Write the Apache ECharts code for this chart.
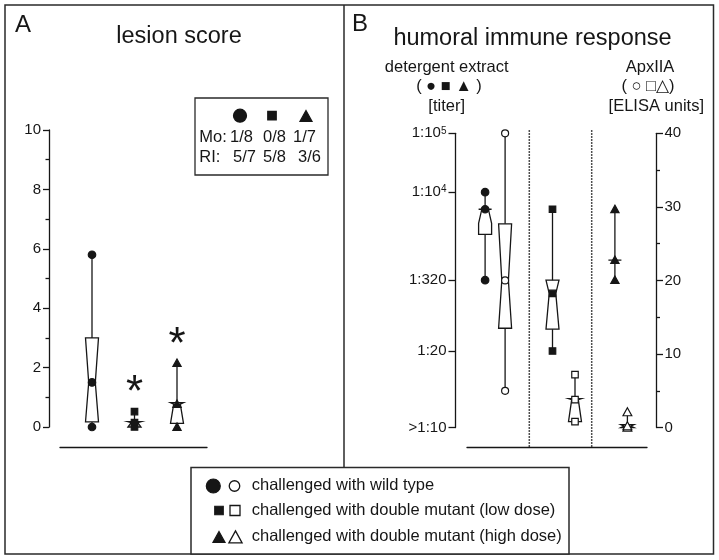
<!DOCTYPE html>
<html><head><meta charset="utf-8">
<script src="https://cdn.jsdelivr.net/npm/echarts@6/dist/echarts.min.js"></script>
<style>html,body{margin:0;padding:0;background:#fff}#c{width:719px;height:560px}</style>
</head><body><div id="c"></div><script>
const FONT = '"Liberation Sans", Arial, Helvetica, sans-serif';
const INK = '#161616';

// ---------- Panel A: lesion score ----------
const groups = ['wild type', 'double mutant (low dose)', 'double mutant (high dose)'];
const groupShapes = ['circle', 'square', 'triangle'];
const lesionMin     = [0,    0,    0];
const lesionQ1      = [0.17, 0,    0.12];
const lesionNotchLo = [0.17, 0,    0.12];
const lesionMedian  = [1.5,  0.15, 0.77];
const lesionNotchHi = [3.0,  0.18, 0.82];
const lesionQ3      = [3.0,  0.18, 0.82];
const lesionMax     = [5.8,  0.52, 2.15];
const lesionSignificant = [false, true, true];
const lesionAxisMin = 0, lesionAxisMax = 10, lesionAxisStep = 2;
const mortality   = ['1/8', '0/8', '1/7'];
const respLesions = ['5/7', '5/8', '3/6'];

// ---------- Panel B: humoral immune response ----------
// detergent extract titers (reciprocal dilution), log axis
const titerMin     = [320,   20,   320];
const titerQ1      = [1920,  47,   700];
const titerNotchLo = [2950,  47,   700];
const titerMedian  = [5120,  190,  700];
const titerNotchHi = [5120,  320,  700];
const titerQ3      = [5120,  320,  700];
const titerMax     = [10000, 5120, 5120];
const titerTickValues = [1, 20, 320, 1e4, 1e5];
const titerTickLabels = ['>1:10', '1:20', '1:320', '1:10^4', '1:10^5'];
const titerAxisMaxLog = 5;
// ApxIIA ELISA units
const elisaMin     = [5,    0.8,  0];
const elisaQ1      = [13.5, 0.8,  0];
const elisaNotchLo = [13.5, 0.8,  0];
const elisaMedian  = [20,   3.8,  0.2];
const elisaNotchHi = [27.7, 3.95, 0.4];
const elisaQ3      = [27.7, 3.95, 0.4];
const elisaMax     = [40,   7.2,  2.1];
const elisaAxisMin = 0, elisaAxisMax = 40, elisaAxisStep = 10;

const legendLabels = [
  'challenged with wild type',
  'challenged with double mutant (low dose)',
  'challenged with double mutant (high dose)'
];

// ---------- style / layout constants ----------
const FILLED_DX = [-13, -8, -8];
const OPEN_DX = [7, 14.5, 4.5];
const BOX_W = 6.5, BOX_N = 3.3;
const TXT = 16.5, TITLE = 23.5;

function marker(shape, x, y, s, filled, lw) {
  const style = {fill: filled ? INK : '#fff', stroke: INK, lineWidth: lw || 1.2};
  if (shape === 'circle') return {type: 'circle', shape: {cx: x, cy: y, r: s / 2}, style};
  if (shape === 'square') return {type: 'rect', shape: {x: x - s / 2, y: y - s / 2, width: s, height: s}, style};
  return {type: 'polygon', shape: {points: [[x, y - s * 0.55], [x + s * 0.55, y + s * 0.45], [x - s * 0.55, y + s * 0.45]]}, style};
}

function boxRenderer(dxArr, filled, sizes, sig) {
  return function (params, api) {
    const g = api.value(0);
    const Y = k => api.coord([g, api.value(k)])[1];
    const x = api.coord([g, api.value(4)])[0] + dxArr[g];
    const yMin = Y(1), yQ1 = Y(2), yLo = Y(3), yMed = Y(4), yHi = Y(5), yQ3 = Y(6), yMax = Y(7);
    const W = BOX_W, N = BOX_N;
    const shape = groupShapes[g];
    const s = sizes[shape];
    const ch = [
      {type: 'line', shape: {x1: x, y1: yMin, x2: x, y2: yMax}, style: {stroke: INK, lineWidth: 1.3}},
      {type: 'polygon', shape: {points: [[x - W, yQ1], [x - W, yLo], [x - N, yMed], [x - W, yHi], [x - W, yQ3],
        [x + W, yQ3], [x + W, yHi], [x + N, yMed], [x + W, yLo], [x + W, yQ1]]},
        style: {fill: '#fff', stroke: INK, lineWidth: 1.3}},
      marker(shape, x, yMin, s, filled),
      marker(shape, x, yMax, s, filled),
      marker(shape, x, yMed, s, filled)
    ];
    if (sig && sig[g]) {
      ch.push({type: 'text', x: x, y: yMax - 39.5, style: {text: '*', font: '44px ' + FONT, fill: INK, textAlign: 'center', textVerticalAlign: 'top'}});
    }
    return {type: 'group', children: ch};
  };
}

function rows(minA, q1A, loA, medA, hiA, q3A, maxA, tf) {
  const f = tf || (v => v);
  return groups.map((_, i) => [i, f(minA[i]), f(q1A[i]), f(loA[i]), f(medA[i]), f(hiA[i]), f(q3A[i]), f(maxA[i])]);
}

const chart = echarts.init(document.getElementById('c'), null, {renderer: 'canvas'});
const axisLineStyle = {color: INK, width: 1.3};
const hiddenValueAxis = (gi) => ({type: 'value', gridIndex: gi, show: false, min: 0, max: 1});

function textEl(text, x, y, size, align) {
  return {type: 'text', x: x, y: y, style: {text: text, font: size + 'px ' + FONT, fill: INK, textAlign: align || 'left', textVerticalAlign: 'middle'}};
}

const graphics = [
  {type: 'rect', shape: {x: 5, y: 5, width: 708.5, height: 549}, style: {fill: 'none', stroke: '#2a2a2a', lineWidth: 1.5}},
  {type: 'line', shape: {x1: 344, y1: 5, x2: 344, y2: 467.5}, style: {stroke: '#2a2a2a', lineWidth: 1.5}},
  {type: 'rect', shape: {x: 191, y: 467.5, width: 378, height: 86.5}, style: {fill: '#fff', stroke: '#2a2a2a', lineWidth: 1.5}},
  textEl('A', 15, 25, 24),
  textEl('lesion score', 179, 36.5, TITLE, 'center'),
  textEl('B', 352, 24.5, 24),
  textEl('humoral immune response', 532.5, 38.8, TITLE, 'center'),
  textEl('detergent extract', 446.7, 67.5, TXT, 'center'),
  textEl('( \u25CF \u25A0 \u25B2 )', 449, 86.5, TXT, 'center'),
  textEl('[titer]', 446.7, 106.5, TXT, 'center'),
  textEl('ApxIIA', 650, 67.5, TXT, 'center'),
  textEl('( \u25CB \u25A1\u25B3)', 648, 86.5, TXT, 'center'),
  textEl('[ELISA units]', 656.3, 106.5, TXT, 'center'),
  // panel A legend box
  {type: 'rect', shape: {x: 195, y: 98, width: 133, height: 77}, style: {fill: '#fff', stroke: '#2a2a2a', lineWidth: 1.3}},
  marker('circle', 240, 115.7, 13, true),
  marker('square', 272, 115.7, 8.5, true),
  marker('triangle', 306, 116.5, 11, true),
  textEl('Mo:', 199.3, 137.7, TXT),
  textEl('RI:', 199.3, 157.3, TXT)
];
const moX = [230, 263, 293], riX = [233, 263, 298];
mortality.forEach((t, i) => graphics.push(textEl(t, moX[i], 137.7, TXT)));
respLesions.forEach((t, i) => graphics.push(textEl(t, riX[i], 157.3, TXT)));
// bottom legend
const legY = [486, 510.5, 537.5], legTextY = [485.7, 510, 536.7];
const legFilledX = [213.3, 219, 219], legOpenX = [234.5, 235, 235.5];
const legFilledS = [14, 8.5, 11], legOpenS = [10.5, 10, 12];
legendLabels.forEach((t, i) => {
  graphics.push(marker(groupShapes[i], legFilledX[i], legY[i], legFilledS[i], true));
  graphics.push(marker(groupShapes[i], legOpenX[i], legY[i], legOpenS[i], false, 1.3));
  graphics.push(textEl(t, 251.7, legTextY[i], TXT));
});

const baseAxis = (gi, off) => ({type: 'value', gridIndex: gi, min: 0, max: 1, offset: off,
  axisLine: {show: true, onZero: false, lineStyle: axisLineStyle},
  axisTick: {show: false}, axisLabel: {show: false}, splitLine: {show: false}});

const option = {
  animation: false,
  backgroundColor: '#fff',
  grid: [
    {left: 70.75, top: 130, width: 127.5, height: 297},
    {left: 60, top: 130, width: 147, height: 297},
    {left: 466.9, top: 133.3, width: 187.2, height: 294.3},
    {left: 467, top: 133.3, width: 180, height: 294.3}
  ],
  xAxis: [
    {type: 'category', gridIndex: 0, data: groups, show: false},
    baseAxis(1, 20),
    {type: 'category', gridIndex: 2, data: groups, show: false},
    baseAxis(3, 19.5)
  ],
  yAxis: [
    {type: 'value', gridIndex: 0, min: lesionAxisMin, max: lesionAxisMax, interval: lesionAxisStep, offset: 21.75,
      axisLine: {show: true, lineStyle: axisLineStyle},
      axisTick: {show: true, length: 6, lineStyle: axisLineStyle},
      minorTick: {show: true, splitNumber: 2, length: 3.5, lineStyle: axisLineStyle},
      axisLabel: {fontSize: 15, fontFamily: FONT, color: INK, margin: 8},
      splitLine: {show: false}},
    hiddenValueAxis(1),
    {type: 'value', gridIndex: 2, min: 0, max: titerAxisMaxLog, offset: 11.4, position: 'left',
      axisLine: {show: true, lineStyle: axisLineStyle},
      axisTick: {show: true, length: 7, lineStyle: axisLineStyle, customValues: titerTickValues.map(Math.log10)},
      axisLabel: {fontSize: 15, fontFamily: FONT, color: INK, margin: 9,
        customValues: titerTickValues.map(Math.log10),
        formatter: function (v) {
          let best = 0;
          titerTickValues.forEach((t, i) => { if (Math.abs(Math.log10(t) - v) < Math.abs(Math.log10(titerTickValues[best]) - v)) best = i; });
          return titerTickLabels[best].replace(/\^(\d+)/, '{s|$1}');
        },
        rich: {s: {fontSize: 10, fontFamily: FONT, color: INK, verticalAlign: 'top'}}},
      splitLine: {show: false}},
    {type: 'value', gridIndex: 2, min: elisaAxisMin, max: elisaAxisMax, interval: elisaAxisStep, offset: 2.4, position: 'right',
      axisLine: {show: true, lineStyle: axisLineStyle},
      axisTick: {show: true, length: 6.5, lineStyle: axisLineStyle},
      minorTick: {show: true, splitNumber: 2, length: 3.5, lineStyle: axisLineStyle},
      axisLabel: {fontSize: 15, fontFamily: FONT, color: INK, margin: 8},
      splitLine: {show: false}},
    hiddenValueAxis(3)
  ],
  series: [
    {type: 'custom', xAxisIndex: 0, yAxisIndex: 0, clip: false,
      renderItem: boxRenderer([0, 0, 0], true, {circle: 7.5, square: 6.5, triangle: 7.5}, lesionSignificant),
      data: rows(lesionMin, lesionQ1, lesionNotchLo, lesionMedian, lesionNotchHi, lesionQ3, lesionMax)},
    {type: 'custom', xAxisIndex: 2, yAxisIndex: 3, clip: false,
      renderItem: function (params, api) {
        const g = api.value(0);
        if (g === 0) return null;
        const cs = params.coordSys;
        const x = api.coord([g, 0])[0] - api.size([1, 0])[0] / 2;
        return {type: 'line', shape: {x1: x, y1: cs.y - 3, x2: x, y2: cs.y + cs.height + 19.5},
          style: {stroke: INK, lineWidth: 1.5, lineDash: [1.5, 1.5]}};
      },
      data: groups.map((_, i) => [i, 0])},
    {type: 'custom', xAxisIndex: 2, yAxisIndex: 2, clip: false,
      renderItem: boxRenderer(FILLED_DX, true, {circle: 7.5, square: 6.5, triangle: 7.5}),
      data: rows(titerMin, titerQ1, titerNotchLo, titerMedian, titerNotchHi, titerQ3, titerMax, Math.log10)},
    {type: 'custom', xAxisIndex: 2, yAxisIndex: 3, clip: false,
      renderItem: boxRenderer(OPEN_DX, false, {circle: 7, square: 6.5, triangle: 8}),
      data: rows(elisaMin, elisaQ1, elisaNotchLo, elisaMedian, elisaNotchHi, elisaQ3, elisaMax)}
  ],
  graphic: {elements: graphics}
};
chart.setOption(option);
</script></body></html>
